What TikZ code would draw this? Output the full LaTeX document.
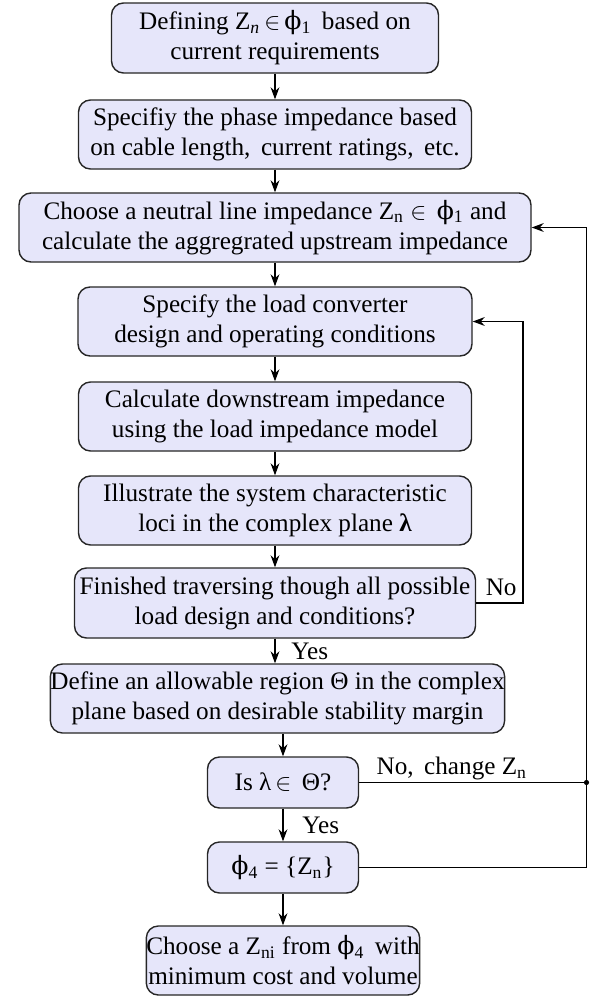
\documentclass[tikz,border=0pt]{standalone}
\usepackage{fontspec}
\setmainfont{Liberation Serif}
\newfontfamily\phifont{DejaVu Serif}
\newcommand{\phisym}{{\phifont ϕ}}
\usetikzlibrary{calc,arrows.meta}
\definecolor{boxfill}{RGB}{230,230,250}

\begin{document}
\begin{tikzpicture}[x=0.5pt,y=-0.5pt,
  stepbox/.style={draw=black!85,line width=0.7pt,fill=boxfill,rounded corners=6pt,align=center,inner sep=0pt,font=\fontsize{12.6}{15}\selectfont},
  lbl/.style={inner sep=0pt,font=\fontsize{12.6}{15}\selectfont},
  arr/.style={-{Stealth[length=6pt,width=4.4pt]},line width=0.6pt}]
\useasboundingbox (0,0) rectangle (594,997);
\coordinate (innerx) at (523,0);
\coordinate (outerx) at (586.5,0);
\node[stepbox,minimum width=163.5pt,minimum height=35pt] (define) at (275,38) {Defining Z\textsubscript{\textit{n}}$\,\in$\,\phisym\textsubscript{1} \,based on\\current requirements};
\node[stepbox,minimum width=196.5pt,minimum height=34.5pt] (phase) at (275,134.5) {Specifiy the phase impedance based\\on cable length, \,current ratings, \,etc.};
\node[stepbox,minimum width=256pt,minimum height=34.5pt] (choose) at (275,227.5) {Choose a neutral line impedance Z\textsubscript{n} $\in$\, \phisym\textsubscript{1} and\\calculate the aggregrated upstream impedance};
\node[stepbox,minimum width=197pt,minimum height=34.5pt] (load) at (275,321.5) {Specify the load converter\\design and operating conditions};
\node[stepbox,minimum width=196.5pt,minimum height=34.5pt] (down) at (275,416.5) {Calculate downstream impedance\\using the load impedance model};
\node[stepbox,minimum width=196.5pt,minimum height=34.5pt] (loci) at (275,510.5) {Illustrate the system characteristic\\loci in the complex plane \textbf{λ}};
\node[stepbox,minimum width=200.5pt,minimum height=35pt] (finished) at (275,603) {Finished traversing though all possible\\load design and conditions?};
\node[stepbox,minimum width=215.5pt,minimum height=34.5pt] (region) at (277.5,698.5) {Define an allowable region Θ in the complex\\plane based on desirable stability margin};
\node[stepbox,minimum width=75.5pt,minimum height=25.5pt] (isin) at (283,782.5) {Is λ$\,\in$\, Θ?};
\node[stepbox,minimum width=75.5pt,minimum height=25.5pt] (phiset) at (283,867.5) {\phisym\textsubscript{4} = \{Z\textsubscript{n}\}};
\node[stepbox,minimum width=135pt,minimum height=34.5pt] (pick) at (283,960.5) {Choose a Z\textsubscript{ni} from \phisym\textsubscript{4} \,with\\minimum cost and volume};
\draw[arr] (define) -- (phase);
\draw[arr] (phase) -- (choose);
\draw[arr] (choose) -- (load);
\draw[arr] (load) -- (down);
\draw[arr] (down) -- (loci);
\draw[arr] (loci) -- (finished);
\draw[arr] (finished.south) -- (region.north -| finished.south);
\draw[arr] (region.south -| isin) -- (isin);
\draw[arr] (isin) -- (phiset);
\draw[arr] (phiset) -- (pick);
\draw[arr] (finished.east) -- (finished.east -| innerx) -- (load.east -| innerx) -- (load.east);
\draw[arr] (phiset.east) -- (phiset.east -| outerx) -- (choose.east -| outerx) -- (choose.east);
\draw[line width=0.6pt] (isin.east) -- (isin.east -| outerx);
\fill (isin.east -| outerx) circle (2.6);
\node[lbl,anchor=base east] (nolbl) at ($(finished.east -| innerx)+(-6,-8)$) {No};
\node[lbl,anchor=base west] (yes1) at ($(finished.south)+(16,21)$) {Yes};
\node[lbl,anchor=base west] (changelbl) at ($(isin.east)+(17,-8)$) {No, \,change Z\textsubscript{n}};
\node[lbl,anchor=base west] (yes2) at ($(isin.south)+(19,25)$) {Yes};
\end{tikzpicture}
\end{document}
